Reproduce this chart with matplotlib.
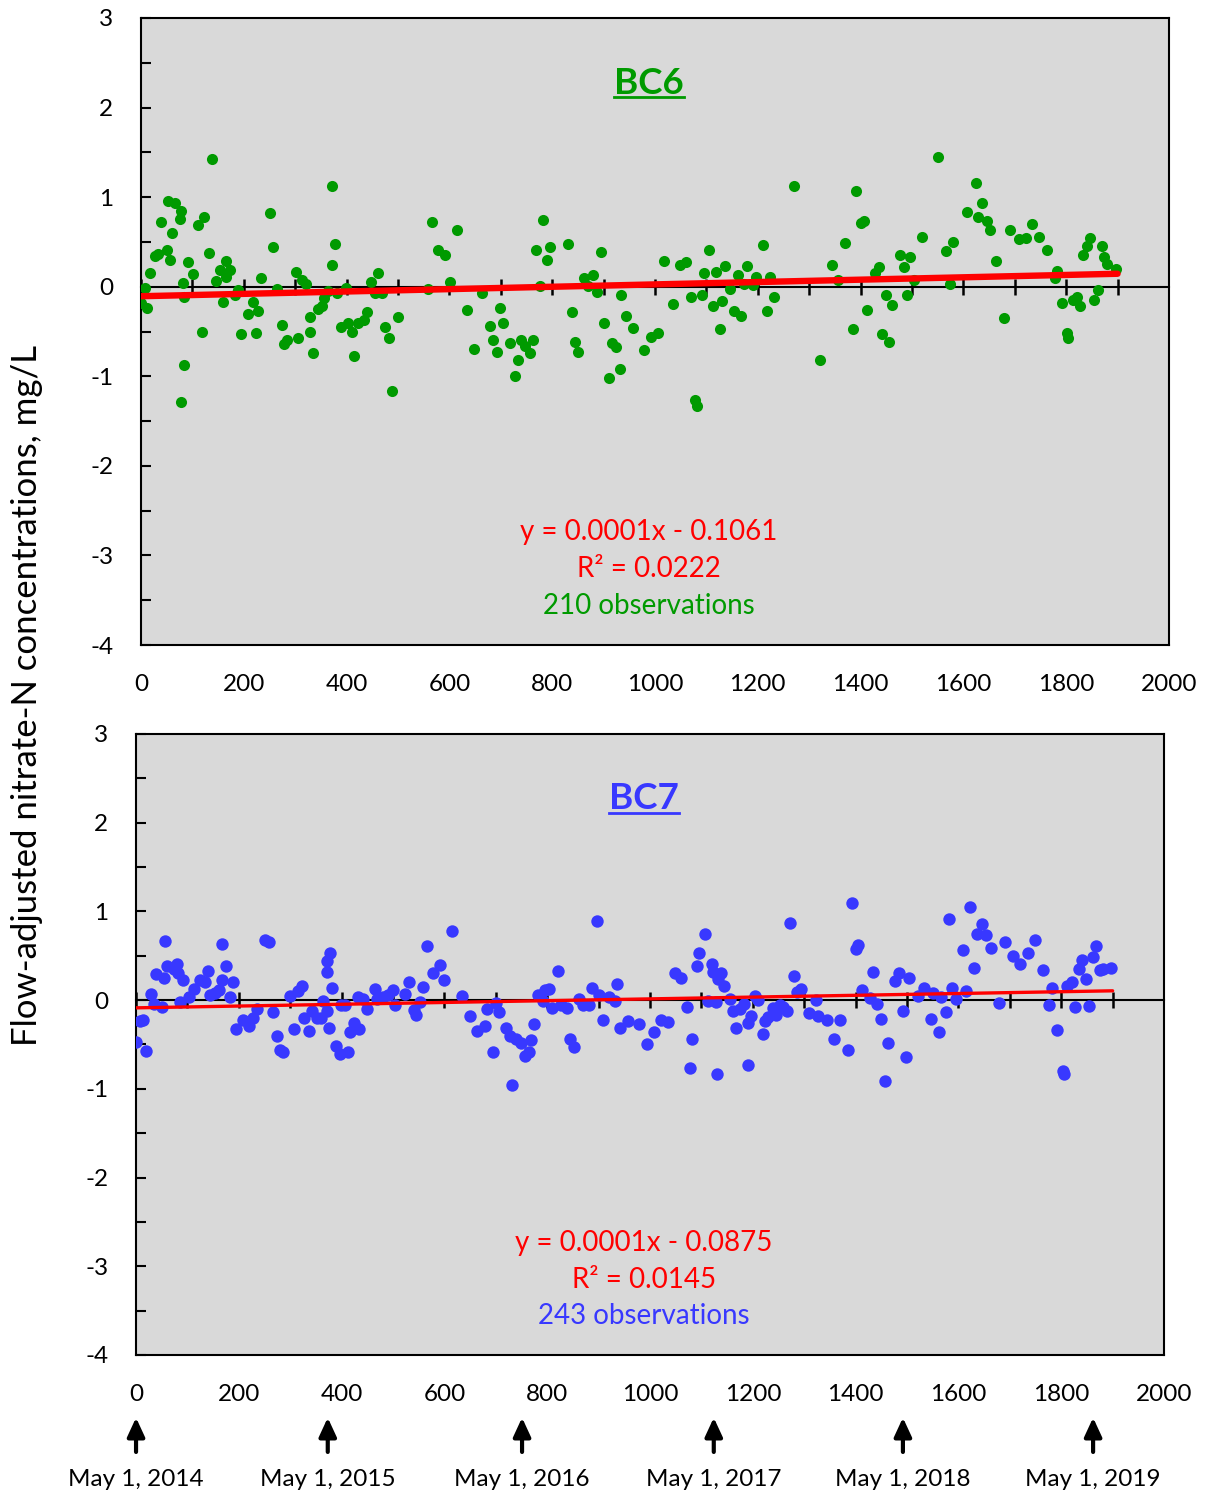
import numpy as np
import matplotlib
matplotlib.use('Agg')
import matplotlib.pyplot as plt

plt.rcParams['font.family'] = ['Lato', 'DejaVu Sans']
plt.rcParams['axes.unicode_minus'] = False

# %%
# days since May 1, 2014 and flow-adjusted nitrate-N (mg/L)
bc6_day = [0, 7, 12, 18, 27, 34, 38, 50, 53, 56, 60, 67, 76, 78, 78, 82, 84, 84, 91, 102,
           110, 118, 123, 132, 139, 146, 153, 159, 165, 165, 174, 182, 188, 194, 208, 217, 223, 228, 233, 251,
           257, 265, 274, 278, 285, 302, 306, 313, 322, 328, 328, 335, 344, 352, 357, 363, 371, 372, 378, 381,
           390, 398, 403, 411, 415, 423, 433, 440, 447, 455, 462, 469, 475, 482, 489, 501, 559, 566, 578, 591,
           601, 614, 634, 648, 664, 680, 684, 693, 699, 704, 718, 728, 733, 739, 748, 757, 763, 768, 776, 783,
           789, 796, 831, 838, 844, 851, 861, 869, 880, 888, 895, 901, 911, 916, 924, 931, 934, 944, 957, 979,
           993, 1006, 1018, 1036, 1049, 1060, 1070, 1078, 1082, 1091, 1095, 1106, 1113, 1119, 1126, 1130, 1137, 1145, 1154, 1161,
           1168, 1174, 1180, 1190, 1196, 1211, 1218, 1224, 1231, 1271, 1321, 1344, 1357, 1369, 1385, 1391, 1401, 1406, 1413, 1428,
           1436, 1442, 1449, 1456, 1462, 1477, 1484, 1491, 1497, 1504, 1519, 1551, 1567, 1574, 1580, 1607, 1624, 1629, 1636, 1645,
           1651, 1664, 1680, 1691, 1709, 1721, 1734, 1748, 1763, 1778, 1782, 1791, 1802, 1804, 1814, 1821, 1826, 1833, 1840, 1847,
           1855, 1861, 1869, 1874, 1879, 1896]
bc6_conc = [-0.18, -0.01, -0.24, 0.15, 0.34, 0.36, 0.72, 0.41, 0.96, 0.30, 0.60, 0.93, 0.76, 0.84, -1.29, 0.04, -0.11, -0.87, 0.28, 0.14,
            0.69, -0.50, 0.78, 0.38, 1.43, 0.06, 0.19, -0.17, 0.29, 0.11, 0.19, -0.09, -0.04, -0.53, -0.30, -0.17, -0.52, -0.27, 0.10, 0.82,
            0.44, -0.03, -0.43, -0.64, -0.59, 0.16, -0.57, 0.08, 0.03, -0.34, -0.51, -0.74, -0.25, -0.22, -0.13, -0.05, 0.24, 1.12, 0.48, -0.07,
            -0.45, -0.01, -0.40, -0.50, -0.77, -0.41, -0.37, -0.28, 0.05, -0.07, 0.15, -0.07, -0.45, -0.57, -1.16, -0.34, -0.03, 0.72, 0.41, 0.35,
            0.05, 0.63, -0.26, -0.70, -0.07, -0.44, -0.60, -0.73, -0.24, -0.41, -0.63, -1.00, -0.82, -0.59, -0.66, -0.74, -0.59, 0.41, 0.01, 0.74,
            0.30, 0.44, 0.48, -0.28, -0.62, -0.73, 0.10, 0.01, 0.13, -0.06, 0.39, -0.41, -1.02, -0.63, -0.67, -0.92, -0.09, -0.33, -0.46, -0.71,
            -0.56, -0.52, 0.29, -0.19, 0.24, 0.28, -0.12, -1.27, -1.33, -0.09, 0.15, 0.41, -0.22, 0.16, -0.47, -0.16, 0.23, -0.02, -0.27, 0.13,
            -0.33, 0.03, 0.23, 0.02, 0.11, 0.47, -0.27, 0.11, -0.12, 1.12, -0.82, 0.24, 0.07, 0.49, -0.47, 1.07, 0.71, 0.73, -0.26, 0.15,
            0.22, -0.53, -0.09, -0.62, -0.20, 0.35, 0.22, -0.09, 0.33, 0.07, 0.55, 1.45, 0.40, 0.03, 0.50, 0.83, 1.16, 0.78, 0.93, 0.73,
            0.63, 0.29, -0.35, 0.63, 0.53, 0.54, 0.70, 0.56, 0.41, 0.10, 0.18, -0.18, -0.52, -0.57, -0.15, -0.11, -0.21, 0.35, 0.46, 0.54,
            -0.15, -0.04, 0.45, 0.33, 0.25, 0.20]

bc7_day = [0, 8, 14, 19, 29, 34, 39, 50, 54, 56, 61, 73, 79, 82, 86, 92, 103, 112, 125, 134,
           140, 144, 154, 162, 167, 167, 175, 182, 188, 195, 208, 220, 228, 235, 251, 259, 266, 274, 280, 285,
           300, 307, 315, 323, 327, 336, 342, 352, 359, 364, 371, 371, 372, 375, 377, 381, 390, 397, 398, 407,
           413, 416, 424, 432, 434, 442, 449, 464, 469, 481, 491, 499, 504, 523, 532, 540, 545, 553, 559, 567,
           578, 591, 599, 614, 634, 650, 664, 678, 683, 694, 700, 706, 720, 728, 731, 739, 749, 757, 765, 768,
           775, 783, 791, 796, 804, 810, 820, 826, 839, 844, 852, 861, 869, 881, 887, 896, 901, 909, 921, 932,
           935, 942, 958, 979, 995, 1008, 1021, 1034, 1049, 1060, 1071, 1078, 1082, 1092, 1096, 1107, 1113, 1120, 1122, 1128,
           1131, 1133, 1138, 1144, 1156, 1162, 1167, 1175, 1183, 1190, 1190, 1196, 1204, 1211, 1219, 1224, 1230, 1239, 1245, 1253,
           1259, 1266, 1272, 1280, 1285, 1293, 1310, 1322, 1326, 1344, 1357, 1370, 1386, 1392, 1401, 1405, 1412, 1428, 1434, 1441,
           1449, 1457, 1462, 1476, 1485, 1492, 1498, 1504, 1522, 1533, 1546, 1551, 1562, 1567, 1575, 1581, 1588, 1595, 1608, 1615,
           1623, 1630, 1637, 1645, 1653, 1663, 1678, 1691, 1707, 1720, 1735, 1748, 1764, 1777, 1783, 1792, 1803, 1805, 1811, 1820,
           1827, 1834, 1841, 1848, 1854, 1862, 1868, 1875, 1882, 1896]
bc7_conc = [-0.47, -0.24, -0.23, -0.57, 0.07, -0.04, 0.29, -0.08, 0.25, 0.67, 0.38, 0.35, 0.41, 0.30, -0.02, 0.23, 0.03, 0.12, 0.23, 0.20,
            0.33, 0.06, 0.08, 0.11, 0.63, 0.23, 0.38, 0.03, 0.20, -0.33, -0.23, -0.29, -0.20, -0.10, 0.68, 0.65, -0.14, -0.41, -0.56, -0.58,
            0.05, -0.33, 0.10, 0.16, -0.20, -0.35, -0.12, -0.20, -0.20, -0.01, -0.12, 0.32, 0.44, -0.32, 0.53, 0.14, -0.52, -0.61, -0.05, -0.06,
            -0.58, -0.36, -0.26, 0.03, -0.33, 0.01, -0.10, 0.12, 0.01, 0.04, 0.06, 0.11, -0.05, 0.07, 0.20, -0.11, -0.17, -0.02, 0.15, 0.61,
            0.31, 0.39, 0.23, 0.78, 0.05, -0.18, -0.35, -0.29, -0.10, -0.59, -0.03, -0.13, -0.32, -0.40, -0.96, -0.44, -0.48, -0.63, -0.58, -0.45,
            -0.27, 0.06, -0.01, 0.11, 0.12, -0.09, 0.33, -0.06, -0.09, -0.44, -0.53, 0.01, -0.06, -0.06, 0.14, 0.89, 0.06, -0.22, 0.03, -0.01,
            0.18, -0.31, -0.24, -0.27, -0.50, -0.36, -0.23, -0.25, 0.30, 0.25, -0.08, -0.77, -0.44, 0.38, 0.53, 0.74, -0.01, 0.41, 0.32, -0.02,
            -0.83, 0.24, 0.30, 0.16, 0.01, -0.12, -0.32, -0.10, -0.04, -0.26, -0.73, -0.18, 0.05, 0.00, -0.38, -0.24, -0.19, -0.09, -0.17, -0.05,
            -0.08, -0.12, 0.87, 0.27, 0.09, 0.12, -0.15, 0.00, -0.18, -0.22, -0.44, -0.23, -0.56, 1.09, 0.58, 0.62, 0.11, 0.02, 0.32, -0.04,
            -0.21, -0.91, -0.48, 0.21, 0.30, -0.12, -0.64, 0.25, 0.05, 0.14, -0.21, 0.08, -0.36, 0.03, -0.14, 0.91, 0.14, 0.01, 0.57, 0.10,
            1.05, 0.36, 0.75, 0.86, 0.73, 0.59, -0.03, 0.66, 0.50, 0.41, 0.53, 0.68, 0.34, -0.05, 0.14, -0.34, -0.80, -0.83, 0.16, 0.20,
            -0.08, 0.35, 0.45, 0.24, -0.07, 0.48, 0.61, 0.34, 0.35, 0.36]

# trend line and stats as printed on the chart (slope drawn a bit steeper than the rounded 0.0001)
bc6_fit = (0.000132, -0.1061)
bc7_fit = (0.000101, -0.0875)
bc6_r2, bc7_r2 = 0.0222, 0.0145
bc6_nobs, bc7_nobs = 210, 243
fit_end_day = 1900

# reference dates marked under the bottom panel
date_days = [0, 373, 751, 1124, 1492, 1862]
date_labels = ['May 1, 2014', 'May 1, 2015', 'May 1, 2016', 'May 1, 2017', 'May 1, 2018', 'May 1, 2019']

GREEN = '#009a00'
BLUE = '#3838ff'
RED = '#ff0000'
BG = '#d9d9d9'


def draw_panel(ax, days, conc, color, name, fit, r2, nobs, dot_size, fit_lw):
    ax.set_facecolor(BG)
    ax.scatter(days, conc, s=dot_size, color=color, zorder=3, linewidths=0)

    # trend line from the fitted slope / intercept
    xs = np.array([0, fit_end_day])
    ax.plot(xs, fit[0] * xs + fit[1], color=RED, lw=fit_lw, zorder=4, solid_capstyle='round')

    ax.set_xlim(0, 2000)
    ax.set_ylim(-4, 3)
    ax.set_xticks(np.arange(0, 2001, 200))
    ax.set_yticks(np.arange(-4, 3.1, 1))
    ax.set_yticks(np.arange(-4, 3.1, 0.5), minor=True)
    ax.tick_params(axis='x', length=0, pad=21, labelsize=17.5)
    ax.tick_params(axis='y', which='both', direction='in', length=7, width=1.5, pad=20, labelsize=17.5)
    for sp in ax.spines.values():
        sp.set_color('black')
        sp.set_linewidth(1.5)

    # horizontal axis line crossing at y = 0, with ticks every 100 days
    zero_ax = ax.secondary_xaxis(4 / 7)
    zero_ax.set_xticks(np.arange(0, 2000, 100))
    zero_ax.tick_params(axis='x', direction='inout', length=12, width=1.8,
                        labelbottom=False, labeltop=False)
    for sp in zero_ax.spines.values():
        sp.set_linewidth(1.5)

    title = ax.text(0.494, 0.896, name, transform=ax.transAxes, ha='center', va='center',
                    fontsize=26.5, fontweight='bold', color=color)
    ax.text(0.494, 0.180, 'y = 0.0001x - %.4f' % abs(fit[1]), transform=ax.transAxes,
            ha='center', va='center', fontsize=20, color=RED)
    ax.text(0.494, 0.121, 'R² = %.4f' % r2, transform=ax.transAxes,
            ha='center', va='center', fontsize=20, color=RED)
    ax.text(0.494, 0.062, '%d observations' % nobs, transform=ax.transAxes,
            ha='center', va='center', fontsize=20, color=color)
    return title


fig = plt.figure(figsize=(12.06, 14.96), dpi=100)
ax1 = fig.add_axes([0.1169, 0.5688, 0.8524, 0.4192])
ax2 = fig.add_axes([0.1128, 0.0943, 0.8524, 0.4151])

t1 = draw_panel(ax1, bc6_day, bc6_conc, GREEN, 'BC6', bc6_fit, bc6_r2, bc6_nobs, 64, 4.6)
t2 = draw_panel(ax2, bc7_day, bc7_conc, BLUE, 'BC7', bc7_fit, bc7_r2, bc7_nobs, 80, 2.4)

fig.text(0.022, 0.5354, 'Flow-adjusted nitrate-N concentrations, mg/L', rotation=90,
         ha='center', va='center', fontsize=25)

# date arrows under the bottom panel
for d, lab in zip(date_days, date_labels):
    ax2.annotate(lab, xy=(d, -0.101), xycoords=('data', 'axes fraction'),
                 xytext=(d, -0.2), textcoords=('data', 'axes fraction'),
                 ha='center', va='center', fontsize=17.5, annotation_clip=False,
                 arrowprops=dict(arrowstyle='-|>,head_width=0.3,head_length=0.65', color='black',
                                 lw=3, shrinkA=10, shrinkB=0))

# underline the panel titles
fig.canvas.draw()
for ax, t, c in [(ax1, t1, GREEN), (ax2, t2, BLUE)]:
    bb = t.get_window_extent().transformed(ax.transAxes.inverted())
    ax.plot([bb.x0, bb.x1], [bb.y0 + 0.004, bb.y0 + 0.004], transform=ax.transAxes, color=c, lw=2)

fig.savefig('out.png', dpi=100)
